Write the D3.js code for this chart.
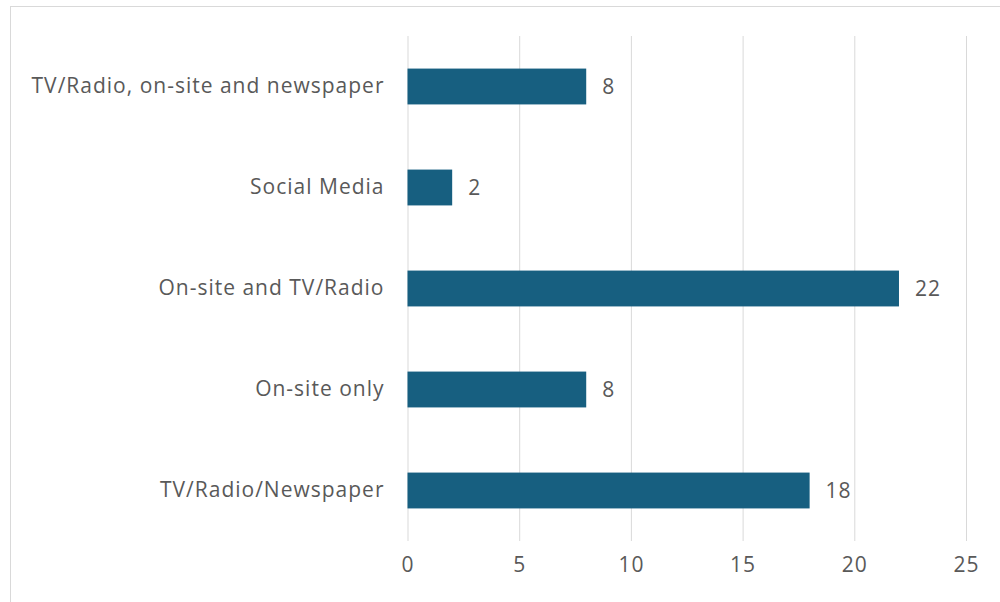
<!DOCTYPE html>
<html>
<head>
<meta charset="utf-8">
<script src="https://cdn.jsdelivr.net/npm/d3@7"></script>
<style>
  html, body { margin: 0; padding: 0; background: #fff; }
  svg { display: block; }
  text { font-family: "Open Sans", "Liberation Sans", Arial, sans-serif; fill: #595959; letter-spacing: 1px; }
</style>
</head>
<body>
<svg id="chart" width="1000" height="602"></svg>
<script>
// Responses by information channel
const categories = [
  "TV/Radio, on-site and newspaper",
  "Social Media",
  "On-site and TV/Radio",
  "On-site only",
  "TV/Radio/Newspaper"
];
const values = [8, 2, 22, 8, 18];
const xTicks = [0, 5, 10, 15, 20, 25];

const svg = d3.select("#chart");
const W = 1000, H = 602;
const plot = { left: 407.5, right: 966, top: 36, bottom: 541 };
const fontSize = 21;

// chart area frame
svg.append("rect")
  .attr("x", 10.5).attr("y", 6.5)
  .attr("width", W + 10).attr("height", H + 10)
  .attr("fill", "#fff")
  .attr("stroke", "#d9d9d9").attr("stroke-width", 1);

const x = d3.scaleLinear().domain([0, 25]).range([plot.left, plot.right]);
const y = d3.scaleBand().domain(categories).range([plot.top, plot.bottom]).paddingInner(0.645).paddingOuter(0.3225);

// vertical gridlines
const xAxis = d3.axisBottom(x).tickValues(xTicks).tickSize(plot.bottom - plot.top).tickPadding(16);
const gx = svg.append("g").attr("transform", `translate(0,${plot.top})`).call(xAxis);
gx.select(".domain").remove();
gx.selectAll(".tick line").attr("stroke", "#d9d9d9").attr("stroke-width", 1);
gx.selectAll(".tick text").attr("font-size", fontSize).style("fill", "#595959");

// category labels
const yAxis = d3.axisLeft(y).tickSize(0).tickPadding(23);
const gy = svg.append("g").attr("transform", `translate(${plot.left},0)`).call(yAxis);
gy.select(".domain").remove();
gy.selectAll(".tick text").attr("font-size", fontSize).style("fill", "#595959");

// bars
svg.append("g").selectAll("rect")
  .data(values)
  .join("rect")
  .attr("x", x(0))
  .attr("y", (d, i) => y(categories[i]))
  .attr("width", d => x(d) - x(0))
  .attr("height", y.bandwidth())
  .attr("fill", "#175f80");

// value labels
svg.append("g").selectAll("text")
  .data(values)
  .join("text")
  .attr("x", d => x(d) + 16)
  .attr("y", (d, i) => y(categories[i]) + y.bandwidth() / 2)
  .attr("dy", "0.35em")
  .attr("font-size", fontSize)
  .text(d => d);
</script>
</body>
</html>
